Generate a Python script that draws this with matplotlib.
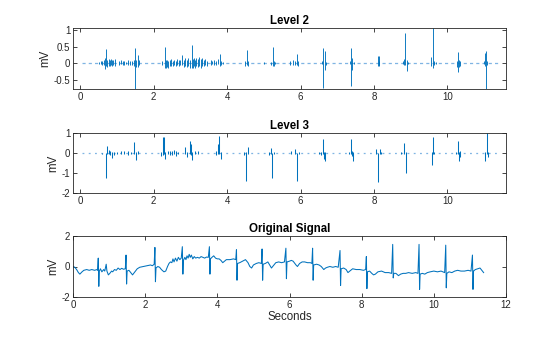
import matplotlib
matplotlib.use("Agg")
import matplotlib.pyplot as plt
from matplotlib.ticker import FuncFormatter

plt.rcParams["font.family"] = ["Liberation Sans", "DejaVu Sans"]
plt.rcParams["axes.unicode_minus"] = False

LINE = "#0072BD"
DOT = "#7fb4e3"
INK = "#262626"

# Level 2 detail coefficients: spike time (s), top and bottom (mV)
l2_t = [0.52, 0.56, 0.60, 0.64, 0.68, 0.71, 0.74, 0.77, 0.80, 0.83, 0.86, 0.90, 0.94,
        1.05, 1.10, 1.15, 1.20, 1.25, 1.30, 1.35, 1.40, 1.45, 1.49, 1.52, 1.56, 1.61,
        2.22, 2.30, 2.33, 2.36, 2.40, 2.44, 2.48, 2.52, 2.56, 2.60, 2.64, 2.68, 2.72,
        2.78, 2.82, 2.86, 2.90, 2.94, 2.98, 3.03, 3.06, 3.09, 3.12, 3.16, 3.20, 3.24,
        3.28, 3.32, 3.36, 3.40, 3.44, 3.55, 3.60, 3.65, 3.70, 3.75, 3.80, 3.84, 3.90,
        4.50, 4.53, 4.56, 5.00, 5.20, 5.24, 5.27, 5.30, 5.72, 5.80, 5.86, 5.90, 5.93,
        6.58, 6.61, 6.66, 6.70, 7.34, 7.37, 7.41, 7.45, 8.11, 8.13, 8.15,
        8.80, 8.83, 8.86, 8.89, 8.92, 9.56, 9.60, 9.63, 9.70,
        10.27, 10.30, 10.33, 10.36, 11.00, 11.03, 11.06, 11.09]
l2_hi = [0.04, 0.06, 0.05, 0.08, 0.15, 0.43, 0.10, 0.12, 0.08, 0.12, 0.10, 0.08, 0.12,
         0.06, 0.08, 0.05, 0.07, 0.04, 0.08, 0.06, 0.05, 0.08, 0.47, 0.10, 0.25, 0.08,
         0.05, 0.50, 0.08, 0.10, 0.05, 0.08, 0.12, 0.05, 0.10, 0.06, 0.12, 0.08, 0.10,
         0.26, 0.10, 0.14, 0.08, 0.15, 0.10, 0.55, 0.12, 0.15, 0.10, 0.16, 0.12, 0.18,
         0.12, 0.15, 0.10, 0.12, 0.05, 0.08, 0.05, 0.10, 0.06, 0.12, 0.28, 0.06, 0.04,
         0.05, 0.40, 0.05, 0.03, 0.04, 0.50, 0.06, 0.03, 0.06, 0.08, 0.05, 0.28, 0.06,
         0.05, 0.45, 0.38, 0.04, 0.05, 0.45, 0.15, 0.04, 0.22, 0.22, 0.05,
         0.05, 0.12, 0.92, 0.08, 0.04, 0.20, 1.06, 0.05, 0.03,
         0.05, 0.35, 0.08, 0.05, 0.06, 0.30, 0.38, 0.05]
l2_lo = [-0.04, -0.03, -0.05, -0.06, -0.17, -0.10, -0.12, -0.08, -0.10, -0.05, -0.10, -0.06, -0.08,
         -0.05, -0.04, -0.06, -0.05, -0.04, -0.06, -0.05, -0.05, -0.10, -0.78, -0.12, -0.12, -0.06,
         -0.05, -0.15, -0.15, -0.12, -0.15, -0.10, -0.08, -0.10, -0.05, -0.10, -0.06, -0.08, -0.05,
         -0.05, -0.12, -0.08, -0.12, -0.10, -0.15, -0.15, -0.15, -0.10, -0.14, -0.08, -0.12, -0.10,
         -0.14, -0.08, -0.10, -0.06, -0.08, -0.05, -0.04, -0.05, -0.05, -0.04, -0.10, -0.06, -0.04,
         -0.10, -0.05, -0.08, -0.03, -0.06, -0.10, -0.10, -0.03, -0.05, -0.06, -0.06, -0.05, -0.08,
         -0.04, -0.75, -0.20, -0.05, -0.04, -0.68, -0.22, -0.04, -0.10, -0.08, -0.05,
         -0.04, -0.05, -0.05, -0.25, -0.04, -0.10, -0.15, -0.05, -0.03,
         -0.12, -0.28, -0.12, -0.10, -0.04, -0.08, -0.78, -0.05]

# Level 3 detail coefficients
l3_t = [0.60, 0.70, 0.73, 0.77, 0.82, 0.87, 0.92, 1.00, 1.10, 1.20, 1.30, 1.38, 1.47, 1.53, 1.58,
        2.20, 2.25, 2.29, 2.32, 2.40, 2.45, 2.50, 2.55, 2.60, 2.67, 2.84, 2.90, 2.98, 3.01, 3.04,
        3.12, 3.20, 3.70, 3.74, 3.78, 3.82, 4.45, 4.52, 4.56, 5.15, 5.20, 5.23, 5.27,
        5.75, 5.85, 5.91, 5.95, 6.50, 6.57, 6.61, 6.64, 6.67, 7.33, 7.37, 7.40, 7.43,
        8.05, 8.12, 8.16, 8.20, 8.75, 8.83, 8.87, 9.57, 9.61, 9.65,
        10.25, 10.29, 10.33, 10.36, 11.02, 11.07, 11.10]
l3_hi = [0.00, 0.02, 0.33, 0.15, 0.10, 0.05, 0.05, 0.05, 0.10, 0.12, 0.10, 0.06, 0.53, 0.05, 0.10,
         0.05, 0.78, 0.78, 0.05, 0.10, 0.12, 0.10, 0.15, 0.08, 0.05, 0.28, 0.05, 0.58, 0.45, 0.05,
         0.08, 0.10, 0.10, 0.45, 0.85, 0.05, 0.05, 0.05, 0.28, 0.05, 0.25, 0.02, 0.05,
         0.12, 0.18, 0.02, 0.05, 0.05, 0.05, 0.72, 0.05, 0.05, 0.05, 0.72, 0.08, 0.05,
         0.20, 0.02, 0.20, 0.05, 0.05, 0.48, 0.05, 0.05, 0.78, 0.05,
         0.05, 0.58, 0.05, 0.10, 0.05, 1.00, 0.05]
l3_lo = [-0.05, -1.27, -0.05, -0.05, -0.10, -0.25, -0.08, -0.05, -0.05, -0.06, -0.08, -0.05, -0.05, -0.35, -0.05,
         -0.15, -0.10, -0.05, -0.30, -0.05, -0.08, -0.10, -0.05, -0.15, -0.05, -0.05, -0.18, -0.05, -0.10, -0.35,
         -0.05, -0.05, -0.10, -0.05, -0.05, -0.30, -0.10, -1.40, -0.05, -0.10, -0.05, -1.25, -0.05,
         -0.05, -0.05, -1.40, -0.05, -0.05, -0.10, -0.05, -0.30, -0.38, -0.05, -0.05, -0.15, -0.40,
         -0.05, -1.45, -0.05, -0.05, -0.05, -0.05, -1.00, -0.60, -0.05, -0.05,
         -0.05, -0.05, -0.40, -0.20, -0.40, -0.05, -0.20]

# Original ECG trace (s, mV)
ecg_t = [0.00, 0.05, 0.10, 0.15, 0.19, 0.25, 0.30, 0.38, 0.45, 0.52, 0.60, 0.66,
         0.68, 0.70, 0.715, 0.73, 0.76, 0.80, 0.85, 0.88, 0.92, 0.94, 0.98, 1.02,
         1.07, 1.10, 1.15, 1.20, 1.25, 1.30, 1.35, 1.40, 1.45, 1.47, 1.485, 1.50,
         1.55, 1.60, 1.65, 1.70, 1.78, 1.85, 1.95, 2.05, 2.15, 2.20, 2.25, 2.27,
         2.285, 2.30, 2.35, 2.40, 2.45, 2.52, 2.57, 2.62, 2.66, 2.70, 2.74, 2.77,
         2.80, 2.84, 2.88, 2.92, 2.96, 3.00, 3.03, 3.045, 3.06, 3.10, 3.13, 3.16,
         3.19, 3.22, 3.25, 3.28, 3.32, 3.36, 3.40, 3.45, 3.50, 3.55, 3.60, 3.65,
         3.70, 3.75, 3.78, 3.795, 3.81, 3.85, 3.90, 3.95, 4.00, 4.05, 4.10, 4.15,
         4.20, 4.25, 4.35, 4.45, 4.51, 4.53, 4.545, 4.56, 4.62, 4.70, 4.78, 4.85,
         4.90, 4.95, 5.00, 5.08, 5.15, 5.22, 5.24, 5.255, 5.27, 5.33, 5.40, 5.45,
         5.50, 5.55, 5.62, 5.70, 5.78, 5.86, 5.90, 5.915, 5.93, 6.00, 6.05, 6.10,
         6.18, 6.22, 6.28, 6.35, 6.42, 6.50, 6.58, 6.62, 6.64, 6.655, 6.67, 6.75,
         6.82, 6.88, 6.95, 7.00, 7.05, 7.12, 7.20, 7.28, 7.35, 7.40, 7.415, 7.43,
         7.50, 7.57, 7.62, 7.67, 7.75, 7.85, 7.95, 8.05, 8.11, 8.13, 8.145, 8.16,
         8.22, 8.28, 8.33, 8.38, 8.45, 8.55, 8.65, 8.75, 8.83, 8.86, 8.875, 8.89,
         8.95, 9.02, 9.08, 9.15, 9.22, 9.30, 9.40, 9.50, 9.56, 9.59, 9.605, 9.62,
         9.68, 9.75, 9.82, 9.90, 10.00, 10.10, 10.20, 10.30, 10.33, 10.345, 10.36, 10.42,
         10.50, 10.58, 10.66, 10.75, 10.85, 10.95, 11.03, 11.07, 11.085, 11.10, 11.15, 11.22,
         11.28, 11.33, 11.38]
ecg_mv = [0.00, -0.05, -0.20, -0.40, -0.50, -0.35, -0.25, -0.20, -0.25, -0.20, -0.25, -0.20,
          -0.25, 0.55, -1.30, -0.30, -0.15, -0.35, -0.20, -0.30, 0.15, -0.30, -0.55, -0.45,
          -0.30, -0.35, -0.20, -0.25, -0.10, -0.20, -0.12, -0.18, -0.15, 0.75, -1.15, -0.30,
          -0.25, -0.40, -0.55, -0.40, -0.15, -0.05, 0.00, 0.05, 0.10, 0.05, 0.15, 1.25,
          -1.00, -0.10, 0.00, -0.05, -0.20, -0.35, -0.30, 0.00, 0.20, 0.30, 0.25, 0.50,
          0.30, 0.55, 0.35, 0.60, 0.45, 0.55, 1.30, -0.50, 0.40, 0.60, 0.45, 0.70,
          0.55, 0.80, 0.60, 0.75, 0.50, 0.65, 0.55, 0.60, 0.55, 0.65, 0.60, 0.55,
          0.62, 0.60, 1.30, -0.50, 0.50, 0.60, 0.70, 0.55, 0.50, 0.50, 0.40, 0.25,
          0.35, 0.45, 0.45, 0.50, 0.45, 1.10, -0.90, 0.20, 0.25, 0.35, 0.45, 0.25,
          0.00, -0.10, 0.10, 0.20, 0.25, 0.20, 1.15, -0.90, 0.15, 0.20, 0.30, 0.10,
          -0.10, 0.05, 0.25, 0.30, 0.25, 0.30, 1.20, -0.80, 0.30, 0.35, 0.40, 0.35,
          0.10, 0.00, 0.20, 0.30, 0.30, 0.25, 0.25, 0.20, 1.20, -0.90, 0.10, 0.15,
          0.10, 0.00, -0.20, -0.10, -0.05, 0.00, -0.05, 0.00, -0.05, 1.05, -1.25, -0.15,
          -0.10, -0.20, -0.40, -0.30, -0.15, -0.20, -0.20, -0.25, -0.20, 0.65, -1.45, -0.35,
          -0.30, -0.45, -0.55, -0.50, -0.35, -0.30, -0.40, -0.40, -0.45, 1.45, -0.75, -0.45,
          -0.45, -0.60, -0.50, -0.45, -0.45, -0.40, -0.45, -0.40, -0.45, 1.45, -1.50, -0.50,
          -0.45, -0.50, -0.40, -0.35, -0.30, -0.35, -0.30, -0.40, 1.40, -1.40, -0.45, -0.35,
          -0.40, -0.30, -0.25, -0.30, -0.30, -0.25, -0.30, 0.75, -1.50, -0.30, -0.20, -0.15,
          -0.10, -0.25, -0.40]

signal_end = 11.38

fig = plt.figure(figsize=(5.6, 3.37), dpi=100)
left, width = 73 / 560, 433 / 560
ax1 = fig.add_axes([left, (337 - 89) / 337, width, 61 / 337])
ax2 = fig.add_axes([left, (337 - 193) / 337, width, 60 / 337])
ax3 = fig.add_axes([left, (337 - 297) / 337, width, 61 / 337])

fmt = FuncFormatter(lambda v, p: "%g" % v)


def style(ax, title):
    ax.set_title(title, fontsize=8.3, fontweight="bold", color="#000000", pad=3)
    ax.set_ylabel("mV", fontsize=8.3, color=INK, labelpad=2)
    ax.tick_params(direction="in", length=3, width=0.6, labelsize=7, colors=INK,
                   top=True, right=True, pad=2)
    ax.yaxis.set_major_formatter(fmt)
    ax.xaxis.set_major_formatter(fmt)
    for s in ax.spines.values():
        s.set_linewidth(0.6)
        s.set_color(INK)


# Level 2
ax1.plot([0.05, signal_end], [0, 0], color=DOT, lw=0.9, linestyle=(0, (2.5, 2.5)))
ax1.vlines(l2_t, l2_lo, l2_hi, color=LINE, lw=0.65)
ax1.set_xlim(-0.2, 11.6)
ax1.set_ylim(-0.78, 1.06)
ax1.set_xticks([0, 2, 4, 6, 8, 10])
ax1.set_yticks([-0.5, 0, 0.5, 1])
style(ax1, "Level 2")

# Level 3
ax2.plot([0.05, signal_end], [0, 0], color=DOT, lw=0.9, linestyle=(0, (1.5, 3.5)))
ax2.vlines(l3_t, l3_lo, l3_hi, color=LINE, lw=0.75)
ax2.set_xlim(-0.2, 11.6)
ax2.set_ylim(-2, 1)
ax2.set_xticks([0, 2, 4, 6, 8, 10])
ax2.set_yticks([-2, -1, 0, 1])
style(ax2, "Level 3")

# Original signal
ax3.plot(ecg_t, ecg_mv, color=LINE, lw=0.75)
ax3.set_xlim(0, 12)
ax3.set_ylim(-2, 2)
ax3.set_xticks([0, 2, 4, 6, 8, 10, 12])
ax3.set_yticks([-2, 0, 2])
style(ax3, "Original Signal")
ax3.set_xlabel("Seconds", fontsize=8.3, color=INK, labelpad=1)

fig.savefig("out.png", dpi=100)
